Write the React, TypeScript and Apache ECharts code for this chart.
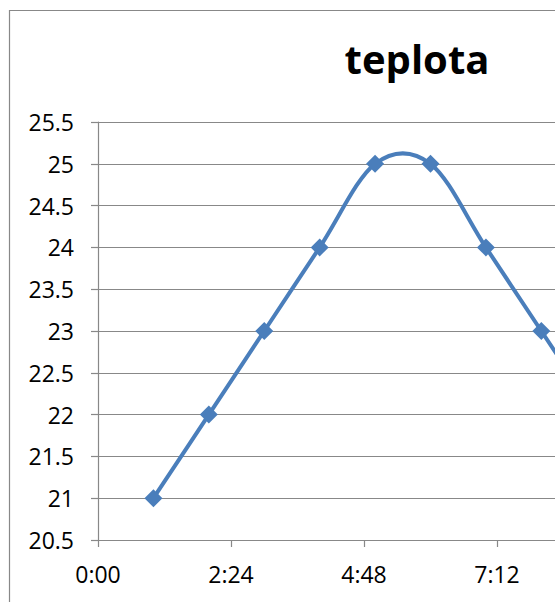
import React, { useEffect, useRef } from "react";
import * as echarts from "echarts";

const titleText = "teplota";
const hours = [1, 2, 3, 4, 5, 6, 7, 8, 9];
const temps = [21, 22, 23, 24, 25, 25, 24, 23, 22];

const W = 720;
const H = 640;

function fmtTime(v: number): string {
  let h = Math.floor(v + 1e-6);
  let m = Math.round((v - h) * 60);
  if (m === 60) { h += 1; m = 0; }
  return h + ":" + (m < 10 ? "0" + m : String(m));
}

export default function App() {
  const ref = useRef<HTMLDivElement>(null);
  useEffect(() => {
    if (!ref.current) return;
    const chart = echarts.init(ref.current, undefined, { renderer: "svg" });
    const font = "'Open Sans', 'Liberation Sans', sans-serif";
    const lineColor = "#4a7ebb";
    const pts = hours.map((h, i) => [h, temps[i]]);
    chart.setOption({
      animation: false,
      backgroundColor: "#ffffff",
      title: {
        text: titleText,
        left: 412,
        top: 33,
        textAlign: "center",
        textStyle: { fontFamily: font, fontWeight: "bold", fontSize: 40, color: "#000" },
      },
      graphic: [
        {
          type: "rect",
          shape: { x: 9.5, y: 10.5, width: 900, height: 900 },
          style: { fill: "none", stroke: "#888888", lineWidth: 1.2 },
          silent: true,
        },
      ],
      grid: { left: 98, top: 122, right: W - 630, bottom: H - 540, containLabel: false },
      xAxis: {
        type: "value",
        min: 0,
        max: 9.6,
        interval: 2.4,
        axisLine: { show: true, lineStyle: { color: "#888888", width: 1.2 } },
        axisTick: { show: true, length: 7, lineStyle: { color: "#888888", width: 1.2 } },
        axisLabel: {
          formatter: (v: number) => fmtTime(v),
          fontFamily: font,
          fontSize: 23,
          color: "#000",
          margin: 22,
          showMaxLabel: false,
        },
        splitLine: { show: false },
      },
      yAxis: {
        type: "value",
        min: 20.5,
        max: 25.5,
        interval: 0.5,
        axisLine: { show: true, lineStyle: { color: "#888888", width: 1.2 } },
        axisTick: { show: true, length: 7, lineStyle: { color: "#888888", width: 1.2 } },
        axisLabel: { fontFamily: font, fontSize: 23, color: "#000", margin: 24 },
        splitLine: { show: true, lineStyle: { color: "#888888", width: 1.2 } },
      },
      series: [
        {
          type: "custom",
          data: pts,
          encode: { x: 0, y: 1 },
          z: 2,
          renderItem: (params: any, api: any) => {
            if (params.dataIndex !== 0) return null;
            const c = pts.map((p) => api.coord(p));
            const n = c.length;
            let d = `M${c[0][0]},${c[0][1]}`;
            for (let i = 0; i < n - 1; i++) {
              const p0 = c[Math.max(0, i - 1)];
              const p1 = c[i];
              const p2 = c[i + 1];
              const p3 = c[Math.min(n - 1, i + 2)];
              const c1x = p1[0] + (p2[0] - p0[0]) / 6;
              const c1y = p1[1] + (p2[1] - p0[1]) / 6;
              const c2x = p2[0] - (p3[0] - p1[0]) / 6;
              const c2y = p2[1] - (p3[1] - p1[1]) / 6;
              d += ` C${c1x},${c1y} ${c2x},${c2y} ${p2[0]},${p2[1]}`;
            }
            return {
              type: "path",
              shape: { pathData: d },
              style: { fill: "none", stroke: lineColor, lineWidth: 4, lineJoin: "round", lineCap: "round" },
              silent: true,
            };
          },
        },
        {
          type: "scatter",
          data: pts,
          symbol: "diamond",
          symbolSize: 18,
          z: 3,
          itemStyle: { color: lineColor, opacity: 1 },
        },
      ],
    });
    return () => chart.dispose();
  }, []);
  return (
    <div style={{ position: "fixed", left: 0, top: 0, width: 555, height: 602, overflow: "hidden", background: "#fff" }}>
      <div ref={ref} style={{ width: W, height: H }} />
    </div>
  );
}
